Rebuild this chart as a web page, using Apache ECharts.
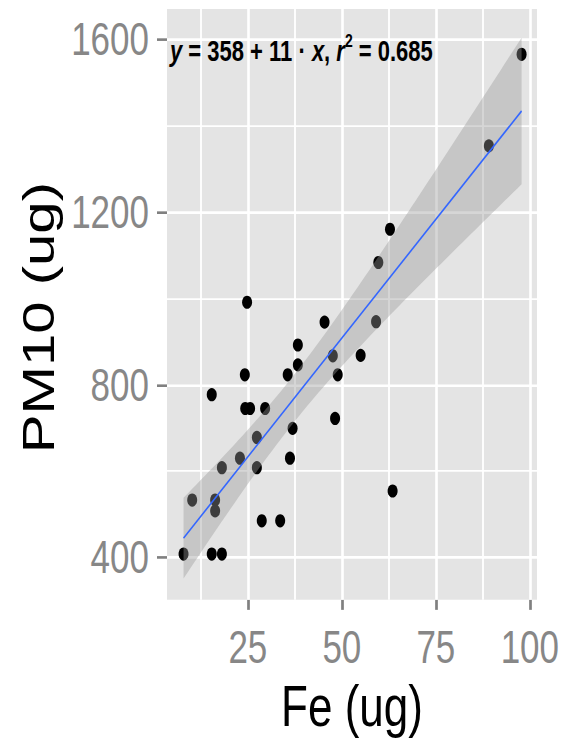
<!DOCTYPE html>
<html><head><meta charset="utf-8">
<script src="https://cdn.jsdelivr.net/npm/echarts@6/dist/echarts.min.js"></script>
<style>
html,body{margin:0;padding:0;background:#fff;overflow:hidden}
#wrap{width:567px;height:741px;overflow:hidden;position:relative}
#chart{width:567px;height:561px;transform:scaleY(1.3209);transform-origin:0 0}
</style></head>
<body><div id="wrap"><div id="chart"></div></div>
<script>
// Fe (ug) values of each sample
const feValues = [97.8, 89.1, 62.8, 59.7, 24.8, 45.4, 59.1, 38.3, 47.6, 55.0,
                  38.3, 24.2, 35.6, 48.9, 15.4, 24.3, 25.6, 29.6, 48.2, 36.9,
                  27.4, 22.9, 36.2, 18.1, 27.4, 10.2, 16.3, 16.3, 28.7, 33.6,
                  63.5, 7.9, 15.4, 18.1];
// PM10 (ug) values of each sample
const pm10Values = [1565, 1353, 1160, 1083, 991, 945, 946, 892, 867, 868,
                    846, 823, 823, 823, 777, 745, 745, 745, 722, 699,
                    678, 630, 630, 608, 608, 533, 533, 508, 485, 485,
                    554, 408, 408, 408];
const xTicks = [25, 50, 75, 100];
const yTicks = [400, 800, 1200, 1600];
const xMinorGrid = [12.5, 37.5, 62.5, 87.5];
const yMinorGrid = [600, 1000, 1400];
const xTitle = 'Fe (ug)';
const yTitle = 'PM10 (ug)';
// fitted model as printed on the chart: y = 358 + 11 x, r^2 = 0.685
const fitIntercept = 358;
const fitSlope = 11;
const fitR2 = '0.685';

// 95% confidence band of the fitted line (as geom_smooth(method = "lm"))
const n = feValues.length;
const mx = feValues.reduce((s, v) => s + v, 0) / n;
let sxx = 0, sse = 0;
for (let i = 0; i < n; i++) {
  sxx += (feValues[i] - mx) ** 2;
  sse += (pm10Values[i] - fitIntercept - fitSlope * feValues[i]) ** 2;
}
const sRes = Math.sqrt(sse / (n - 2));
const tCrit = 2.0369; // qt(0.975, 32)
const xLo = Math.min(...feValues), xHi = Math.max(...feValues);
const bandX = [], bandLow = [], bandHigh = [];
for (let k = 0; k <= 80; k++) {
  const x = xLo + (xHi - xLo) * k / 80;
  const f = fitIntercept + fitSlope * x;
  const se = sRes * Math.sqrt(1 / n + (x - mx) ** 2 / sxx);
  bandX.push(x); bandLow.push(f - tCrit * se); bandHigh.push(f + tCrit * se);
}

const FONT = 'Liberation Sans, Arial, sans-serif';
const chart = echarts.init(document.getElementById('chart'), null, { renderer: 'svg' });

const gridLines = [];
xTicks.forEach(v => gridLines.push({ xAxis: v, lineStyle: { width: 2.6 } }));
xMinorGrid.forEach(v => gridLines.push({ xAxis: v, lineStyle: { width: 1.8 } }));
yTicks.forEach(v => gridLines.push({ yAxis: v, lineStyle: { width: 2.0 } }));
yMinorGrid.forEach(v => gridLines.push({ yAxis: v, lineStyle: { width: 1.4 } }));

chart.setOption({
  animation: false,
  grid: { left: 167, right: 30, top: 6.8, bottom: 106.8, show: true, backgroundColor: '#E4E4E4', borderWidth: 0 },
  xAxis: {
    type: 'value', min: 3.5, max: 101.9,
    axisLine: { show: false },
    splitLine: { show: false },
    axisTick: { show: true, customValues: xTicks, length: 7.6, lineStyle: { color: '#808080', width: 2.7 } },
    axisLabel: { customValues: xTicks, fontSize: 35, lineHeight: 35, color: '#878787', margin: 18, fontFamily: FONT,
                 formatter: v => String(v) },
    name: xTitle, nameLocation: 'middle', nameGap: 55,
    nameTextStyle: { fontSize: 44, lineHeight: 44, color: '#000', fontFamily: FONT }
  },
  yAxis: {
    type: 'value', min: 302, max: 1670,
    axisLine: { show: false },
    splitLine: { show: false },
    axisTick: { show: true, customValues: yTicks, length: 10, lineStyle: { color: '#808080', width: 2 } },
    axisLabel: { customValues: yTicks, fontSize: 35, lineHeight: 35, color: '#878787', margin: 18, fontFamily: FONT,
                 formatter: v => String(v) },
    name: yTitle, nameLocation: 'middle', nameGap: 85,
    nameTextStyle: { fontSize: 44, lineHeight: 44, color: '#000', fontFamily: FONT, padding: [0, 20, 0, 0] }
  },
  series: [
    {
      type: 'scatter', z: 2, symbol: 'circle', symbolSize: 10,
      itemStyle: { color: '#000', opacity: 1 },
      data: feValues.map((x, i) => [x, pm10Values[i]]),
      markLine: {
        silent: true, z: 1, symbol: ['none', 'none'], label: { show: false }, animation: false,
        lineStyle: { color: '#FFFFFF', type: 'solid', opacity: 1 },
        emphasis: { disabled: true },
        data: gridLines
      }
    },
    {
      type: 'custom', z: 3, silent: true, clip: true,
      data: [[mx, fitIntercept + fitSlope * mx]],
      renderItem: function (params, api) {
        const pts = [];
        for (let i = 0; i < bandX.length; i++) pts.push(api.coord([bandX[i], bandHigh[i]]));
        for (let i = bandX.length - 1; i >= 0; i--) pts.push(api.coord([bandX[i], bandLow[i]]));
        return { type: 'polygon', shape: { points: pts }, style: { fill: 'rgba(153,153,153,0.4)' } };
      }
    },
    {
      type: 'line', z: 4, silent: true, showSymbol: false,
      lineStyle: { color: '#3366FF', width: 1.4 },
      data: [[xLo, fitIntercept + fitSlope * xLo], [xHi, fitIntercept + fitSlope * xHi]]
    }
  ],
  graphic: [{
    type: 'text', x: 170, y: 38.6, z: 10,
    style: {
      text: '{i|y}{n| = ' + fitIntercept + ' + ' + fitSlope + ' · }{i|x}{n|, }{i|r}{s|2}{n| = ' + fitR2 + '}',
      verticalAlign: 'middle', fill: '#000',
      rich: {
        n: { fontSize: 22, fontWeight: 'bold', fontFamily: FONT, lineHeight: 30, color: '#000' },
        i: { fontSize: 22, fontWeight: 'bold', fontStyle: 'italic', fontFamily: FONT, lineHeight: 30, color: '#000' },
        s: { fontSize: 14, fontWeight: 'bold', fontFamily: FONT, lineHeight: 14, verticalAlign: 'top', color: '#000' }
      }
    }
  }]
});
</script>
</body></html>
